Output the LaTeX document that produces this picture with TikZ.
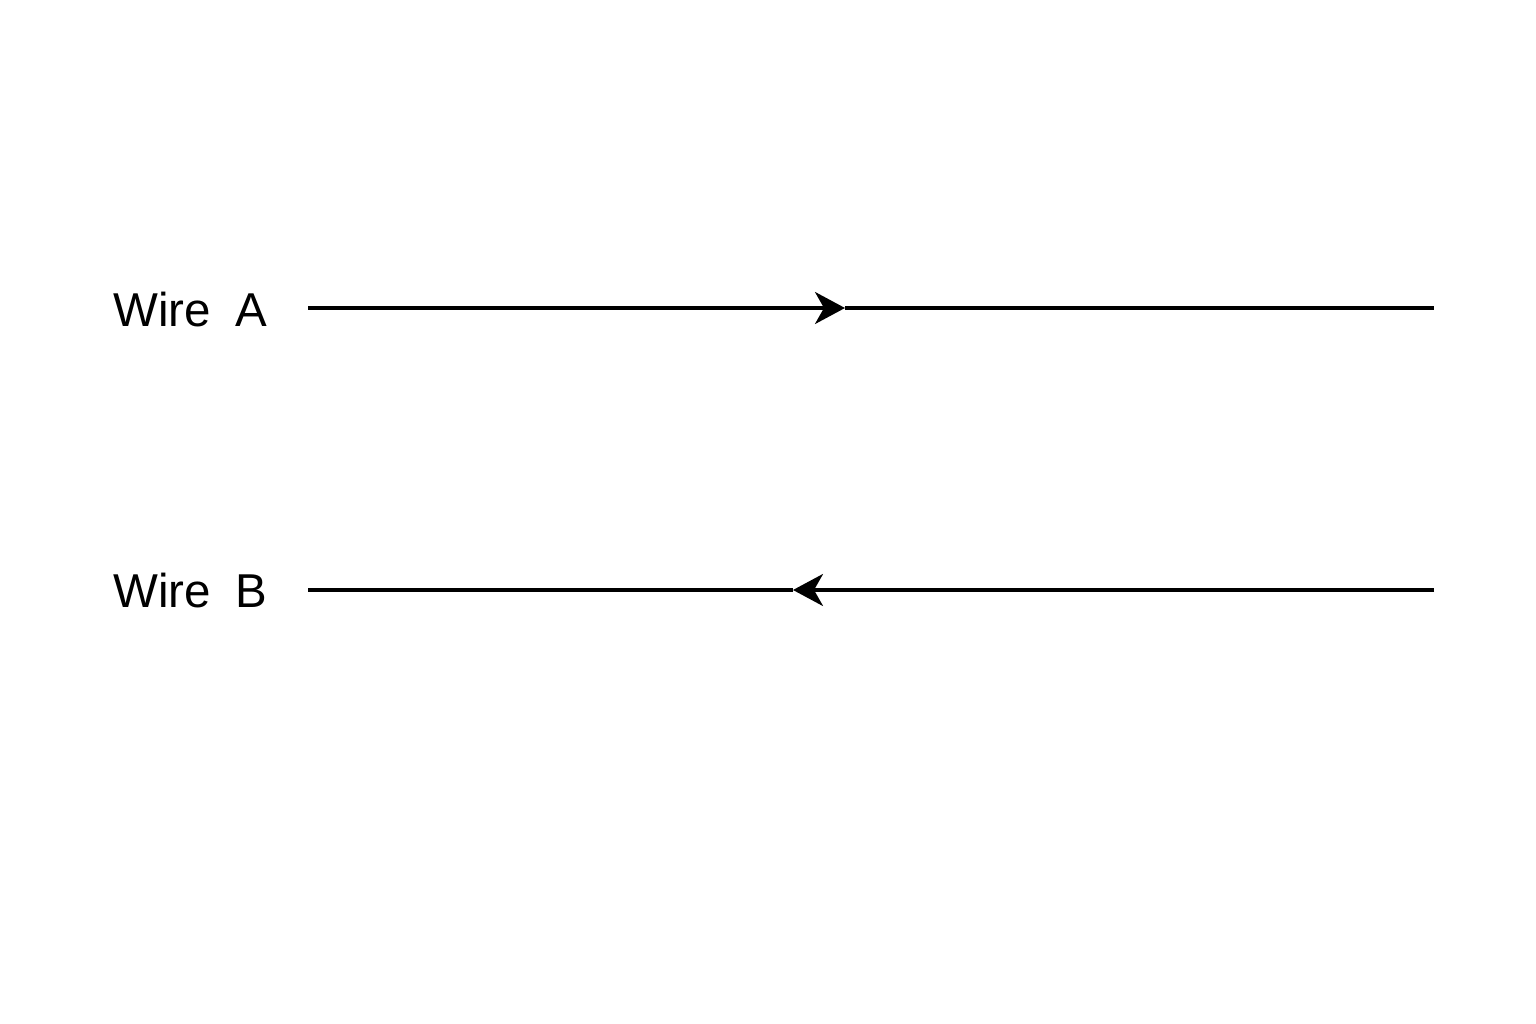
\documentclass[tikz,border=0pt]{standalone}
\usepackage{fontspec}
\setmainfont{Liberation Sans}
\usetikzlibrary{arrows.meta}
\begin{document}
\begin{tikzpicture}[x=1pt,y=-1pt,
  wire/.style={line width=3.4pt,black},
  tip/.style={-{Stealth[length=30pt,width=32pt,inset=9pt]}},
  lbl/.style={anchor=base west,inner sep=0pt,font=\fontsize{47.5}{56}\selectfont}]
\useasboundingbox (0,0) rectangle (1536,1024);
\node[lbl] (la) at (113,326) {Wire\hspace{12pt} A};
\node[lbl] (lb) at (113,607) {Wire\hspace{12pt} B};
\coordinate (a1) at (308,308);
\coordinate (am) at (845,308);
\coordinate (a2) at (1434,308);
\coordinate (b1) at (308,590);
\coordinate (bm) at (793,590);
\coordinate (b2) at (1434,590);
\draw[wire,tip] (a1) -- (am);
\draw[wire] (am) -- (a2);
\draw[wire,tip] (b2) -- (bm);
\draw[wire] (bm) -- (b1);
\end{tikzpicture}
\end{document}
